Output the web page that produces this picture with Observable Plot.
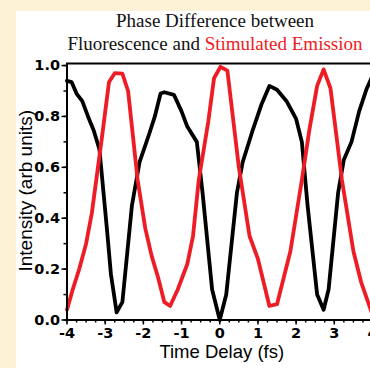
<!DOCTYPE html>
<html>
<head>
<meta charset="utf-8">
<script src="https://cdn.jsdelivr.net/npm/d3@7"></script>
<script src="https://cdn.jsdelivr.net/npm/@observablehq/plot@0.6"></script>
<style>
  html, body { margin: 0; padding: 0; overflow: hidden; }
  body { background: #FDF1D6; width: 370px; height: 368px; position: relative; }
  #panel { position: absolute; left: 16px; top: 11px; width: 354px; height: 357px; background: #ffffff; }
  #chart { position: absolute; left: 0; top: 0; width: 370px; height: 368px; overflow: hidden; }
  #chart svg { max-width: none !important; width: 380px; height: 368px; }
  #title { position: absolute; left: 0; top: 9px; width: 430px; text-align: center;
           font-family: "Liberation Serif", "Times New Roman", serif; font-size: 19px; line-height: 23px; color: #111; }
  #title .red { color: #EC1C24; }
</style>
</head>
<body>
<div id="panel"></div>
<div id="chart"></div>
<div id="title">Phase Difference between<br>Fluorescence and <span class="red">Stimulated Emission</span></div>
<script>
// Fluorescence (black)
const fluorTime = [-4.0, -3.88, -3.75, -3.6, -3.45, -3.3, -3.15, -2.95, -2.85, -2.7, -2.55, -2.3, -2.1, -1.85, -1.7, -1.55, -1.45, -1.2, -1.0, -0.85, -0.6, -0.45, -0.2, 0.0, 0.17, 0.45, 0.6, 0.85, 1.1, 1.3, 1.5, 1.75, 2.0, 2.15, 2.3, 2.55, 2.72, 2.85, 3.1, 3.25, 3.45, 3.65, 3.85, 4.0];
const fluorIntensity = [0.94, 0.935, 0.89, 0.86, 0.80, 0.745, 0.67, 0.35, 0.18, 0.03, 0.07, 0.45, 0.62, 0.73, 0.80, 0.89, 0.895, 0.885, 0.82, 0.76, 0.70, 0.50, 0.12, 0.0, 0.10, 0.50, 0.62, 0.74, 0.85, 0.92, 0.905, 0.86, 0.79, 0.70, 0.45, 0.10, 0.04, 0.12, 0.50, 0.63, 0.70, 0.82, 0.91, 0.96];
// Stimulated emission (red)
const stimTime = [-4.0, -3.85, -3.68, -3.5, -3.35, -3.1, -2.9, -2.75, -2.55, -2.4, -2.15, -1.95, -1.78, -1.62, -1.45, -1.3, -1.1, -0.85, -0.7, -0.55, -0.3, -0.15, 0.02, 0.2, 0.5, 0.78, 1.0, 1.3, 1.5, 1.85, 2.15, 2.35, 2.55, 2.72, 2.9, 3.2, 3.5, 3.7, 4.0];
const stimIntensity = [0.04, 0.12, 0.20, 0.30, 0.42, 0.70, 0.935, 0.97, 0.968, 0.90, 0.55, 0.36, 0.25, 0.17, 0.07, 0.055, 0.12, 0.22, 0.33, 0.55, 0.78, 0.95, 0.995, 0.98, 0.60, 0.33, 0.24, 0.055, 0.062, 0.27, 0.55, 0.75, 0.92, 0.985, 0.91, 0.55, 0.27, 0.15, 0.02];
// Ticks
const xMajorTicks = [-4, -3, -2, -1, 0, 1, 2, 3, 4];
const xMinorTicks = d3.range(-16, 17).map(i => i / 4);
const yMajorTicks = [0, 0.2, 0.4, 0.6, 0.8, 1.0];
const yMinorTicks = d3.range(0, 11).map(i => i / 10);
const xLabel = "Time Delay (fs)";
const yLabel = "Intensity (arb units)";

const fluor = fluorTime.map((t, i) => ({t, v: fluorIntensity[i]}));
const stim = stimTime.map((t, i) => ({t, v: stimIntensity[i]}));

const chart = Plot.plot({
  width: 380,
  height: 368,
  marginLeft: 66.5,
  marginRight: 8,
  marginTop: 63,
  marginBottom: 48.5,
  x: {domain: [-4, 4]},
  y: {domain: [0, 1.008]},
  style: {background: "transparent", maxWidth: "none", fontFamily: "'DejaVu Sans', sans-serif", fontWeight: "bold", fontSize: "14.5px", color: "black"},
  marks: [
    Plot.line(fluor, {x: "t", y: "v", stroke: "black", strokeWidth: 3.8}),
    Plot.line(stim, {x: "t", y: "v", stroke: "#EE1C25", strokeWidth: 3.8}),
    Plot.frame({stroke: "black", strokeWidth: 2}),
    Plot.axisX({ticks: xMinorTicks, tickSize: 3, text: null, label: null, strokeWidth: 1.5}),
    Plot.axisX({ticks: xMajorTicks, tickSize: 5, tickPadding: 3, tickFormat: d => String(d), label: null, strokeWidth: 1.5}),
    Plot.axisY({ticks: yMinorTicks, tickSize: 3, text: null, label: null, strokeWidth: 1.5}),
    Plot.axisY({ticks: yMajorTicks, tickSize: 5, tickPadding: 2, tickFormat: d3.format(".1f"), label: null, strokeWidth: 1.5}),
    Plot.text([xLabel], {frameAnchor: "bottom", text: d => d, dx: 2, dy: 38, fontFamily: "'Liberation Sans', Arial, sans-serif", fontWeight: "normal", fontSize: 18.5, fill: "black"}),
    Plot.text([yLabel], {frameAnchor: "left", textAnchor: "middle", lineAnchor: "middle", text: d => d, dx: -41.5, dy: -1, rotate: -90, fontFamily: "'Liberation Sans', Arial, sans-serif", fontWeight: "normal", fontSize: 19, fill: "black"})
  ]
});
document.getElementById("chart").appendChild(chart);
</script>
</body>
</html>
